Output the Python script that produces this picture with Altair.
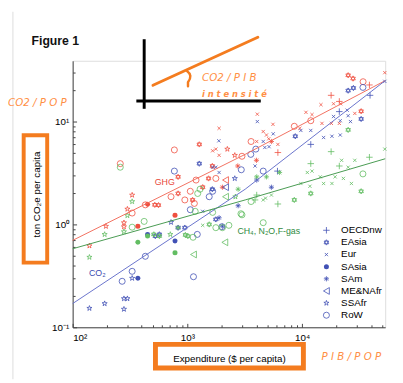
import altair as alt
import pandas as pd

# ---------------- data ----------------
REGIONS = ["OECDnw", "EAsia", "Eur", "SAsia", "SAm", "ME&NAfr", "SSAfr", "RoW"]
CODE = {"O": "OECDnw", "E": "EAsia", "U": "Eur", "S": "SAsia", "M": "SAm",
        "N": "ME&NAfr", "F": "SSAfr", "R": "RoW"}

# GHG (red)
ghg_exp = [1890, 1660, 1770, 1890, 2230, 1270, 770, 260, 830, 2590, 2990, 1650, 1190, 1530,
           1770, 2150, 2020, 1060, 1360, 830, 720, 950, 1110, 1150, 330, 300, 330, 450, 520,
           560, 430, 780, 370, 280, 280, 195, 140, 25200, 27800, 34000, 38600, 52600, 17900,
           21100, 14600, 18800, 21700, 32700, 28800, 10800, 12200, 11900, 21100, 4070, 5570,
           8550, 9550, 14900, 18000, 4580, 4890, 5120, 3590, 4020, 5400, 6150, 4000, 2750, 6150]
ghg_ton = [8.6, 5.2, 5.4, 4.7, 5.4, 6.0, 5.3, 3.9, 2.9, 4.7, 4.6, 3.7, 2.7, 2.8,
           2.8, 2.7, 2.3, 2.1, 2.3, 2.0, 1.86, 1.73, 1.73, 1.6, 1.93, 1.41, 1.29, 1.57, 1.55,
           1.54, 1.55, 1.23, 0.96, 1.04, 0.95, 0.96, 0.62, 28.2, 26.2, 24.4, 22.7, 29.9, 18.0,
           15.7, 14.6, 14.9, 14.9, 12.6, 12.0, 12.3, 11.7, 10.2, 9.6, 11.8, 9.4,
           9.0, 8.6, 9.6, 9.6, 8.0, 7.4, 6.8, 6.4, 6.4, 6.4, 5.0, 4.2, 3.7, 6.0]
ghg_reg = ["U", "U", "U", "U", "F", "E", "R", "R", "E", "F", "R", "E", "R", "E",
           "R", "N", "M", "R", "E", "E", "R", "R", "E", "R", "F", "F", "R", "S", "E",
           "E", "R", "S", "S", "F", "F", "F", "F", "E", "E", "R", "O", "U", "O",
           "O", "U", "U", "U", "E", "U", "U", "U", "R", "U", "U", "U",
           "R", "U", "U", "U", "U", "U", "U", "R", "U", "M", "O", "M", "M", "U"]

# CO2 (blue)
co2_exp = [25200, 28000, 33900, 39100, 52600, 21100, 18800, 21500, 25200, 26400, 24700, 32700,
           9750, 11900, 15400, 18200, 21500, 8720, 11900, 5600, 4070, 4730, 3570, 4580, 6100,
           3890, 4020, 2950, 5400, 2770, 1880, 770, 1270, 1660, 1770, 1890, 2590, 2150, 1650,
           1550, 1060, 1360, 1890, 2020, 1220, 720, 950, 830, 570, 525, 450, 780, 430, 330,
           270, 370, 330, 1130, 280, 300, 280, 190, 140, 1660, 1770, 2000, 4580, 5150, 3950]
co2_ton = [20.0, 21.2, 21.5, 18.0, 24.6, 12.5, 11.2, 10.2, 11.4, 10.0, 12.9, 10.6,
           8.2, 8.2, 7.0, 7.2, 7.4, 7.2, 6.0, 7.6, 10.0, 5.6, 4.8, 3.3, 3.3,
           3.7, 2.7, 3.4, 2.3, 1.52, 6.5, 3.3, 3.9, 3.6, 3.6, 3.2, 2.8, 2.3, 2.2,
           1.86, 1.39, 1.34, 1.16, 0.96, 0.80, 1.05, 0.93, 0.93, 0.80, 0.77, 0.80, 0.69, 0.49, 0.35,
           0.28, 0.30, 0.30, 0.31, 0.19, 0.19, 0.15, 0.17, 0.153, 2.1, 1.12, 0.95, 6.4, 5.7, 5.4]
co2_reg = ["E", "E", "R", "O", "U", "O", "U", "U", "U", "U", "U", "E",
           "U", "U", "U", "U", "U", "E", "O", "U", "U", "U", "R", "R", "O",
           "U", "M", "R", "M", "M", "U", "R", "E", "U", "U", "U", "F", "N", "E",
           "R", "R", "U", "M", "M", "R", "F", "E", "E", "E", "E", "S", "S", "R", "R",
           "R", "S", "F", "R", "F", "F", "F", "F", "F", "R", "E", "R", "U", "U", "R"]

# CH4, N2O, F-gas (green)
oth_exp = [52600, 38600, 33900, 32700, 17900, 22100, 28800, 25200, 21100, 19400, 22900, 26900,
           15400, 18200, 25200, 14400, 11100, 12200, 11900, 9750, 11700, 11900, 8550, 6150,
           5400, 4800, 4580, 4020, 3890, 3590, 2930, 4580, 4890, 6360, 4020, 2620, 260, 2150,
           1230, 1290, 1170, 1360, 1770, 2020, 2300, 1550, 2770, 2990, 2120, 1130, 1660, 830,
           960, 1010, 780, 710, 420, 330, 300, 330, 280, 450, 510, 570, 370, 190, 140, 1120]
oth_ton = [5.4, 4.5, 3.1, 2.1, 5.1, 4.2, 4.2, 3.6, 3.7, 2.9, 2.8, 2.5,
           2.5, 2.5, 8.3, 2.9, 3.2, 3.3, 3.9, 2.5, 2.35, 2.0, 1.73, 1.58,
           1.93, 1.80, 1.73, 1.93, 1.73, 1.67, 1.27, 1.04, 2.9, 3.2, 2.9, 1.86, 3.6, 1.86,
           2.0, 2.2, 1.34, 0.98, 0.93, 0.93, 0.98, 1.0, 2.2, 1.24, 0.67, 0.51, 1.31, 0.93,
           0.79, 0.77, 0.53, 0.80, 1.07, 0.94, 1.22, 1.67, 0.85, 0.77, 0.80, 0.77, 0.67, 0.80, 0.48, 0.75]
oth_reg = ["U", "O", "R", "E", "O", "U", "U", "U", "O", "U", "U", "U",
           "U", "U", "E", "U", "U", "U", "O", "U", "U", "E", "E", "O",
           "U", "U", "U", "O", "O", "R", "R", "R", "M", "M", "M", "F", "R", "N",
           "R", "R", "R", "U", "R", "R", "R", "E", "M", "R", "N", "N", "R", "M",
           "E", "E", "S", "F", "R", "R", "F", "F", "F", "S", "E", "E", "S", "F", "F", "R"]

# fitted trend lines
fit_exp = [100, 3190, 53000]
fit_ghg = [0.70, 4.8, 25.0]
fit_co2 = [0.17, 2.2, 25.0]
fit_oth = [0.58, 1.73, 4.35]

x_major = [100, 1000, 10000]
x_minor = [200, 300, 400, 500, 600, 700, 800, 900, 2000, 3000, 4000, 5000, 6000, 7000,
           8000, 9000, 20000, 30000, 40000, 50000]
y_major = [0.1, 1, 10]
y_minor = [0.2, 0.3, 0.4, 0.5, 0.6, 0.7, 0.8, 0.9, 2, 3, 4, 5, 6, 7, 8, 9, 20, 30]

label_text = ["GHG", "CO₂", "CH₄, N₂O,F-gas"]
label_exp = [635, 164, 5120]
label_ton = [2.57, 0.34, 0.857]

# ---------------- styles ----------------
W, H = 319, 272
XDOM = [100, 53000]
YDOM = [0.1, 39]
FONT = "Liberation Sans"
RED, BLUE, GREEN = "#ef5040", "#4151b5", "#62bd62"
RED_L, BLUE_L, GREEN_L = "#f2705f", "#6873cc", "#479a50"
ORANGE, ORANGE_T = "#f47c1f", "#ff8f45"
AX = "#444444"

STAR = ("M0,-1L0.223,-0.307L0.951,-0.309L0.361,0.117L0.588,0.809L0,0.38L-0.588,0.809"
        "L-0.361,0.117L-0.951,-0.309L-0.223,-0.307Z")
SHAPES = {
    "OECDnw": "M-1,0L1,0M0,-1L0,1",
    "EAsia": "M0,-1L0.866,0.5L-0.866,0.5Z M0,1L0.866,-0.5L-0.866,-0.5Z",
    "Eur": "M-0.7,-0.7L0.7,0.7M-0.7,0.7L0.7,-0.7",
    "SAsia": "circle",
    "SAm": "M-1,0L1,0M0,-1L0,1M-0.7,-0.7L0.7,0.7M-0.7,0.7L0.7,-0.7",
    "ME&NAfr": "triangle-left",
    "SSAfr": STAR,
    "RoW": "circle",
}
SIZES = {"OECDnw": 44, "EAsia": 30, "Eur": 22, "SAsia": 26, "SAm": 28,
         "ME&NAfr": 48, "SSAfr": 30, "RoW": 38}

rows = []
for gas, xs, ys, rs in [("GHG", ghg_exp, ghg_ton, ghg_reg),
                        ("CO2", co2_exp, co2_ton, co2_reg),
                        ("Other", oth_exp, oth_ton, oth_reg)]:
    for a, b, c in zip(xs, ys, rs):
        rows.append({"gas": gas, "exp": a, "ton": b, "region": CODE[c]})
df = pd.DataFrame(rows)

fit_df = pd.DataFrame({
    "exp": fit_exp * 3,
    "ton": fit_ghg + fit_co2 + fit_oth,
    "gas": ["GHG"] * 3 + ["CO2"] * 3 + ["Other"] * 3,
})
lab_df = pd.DataFrame({"text": label_text, "exp": label_exp, "ton": label_ton,
                       "gas": ["GHG", "CO2", "Other"]})
leg_df = pd.DataFrame({"region": REGIONS})

xsc = alt.Scale(type="log", domain=XDOM, nice=False)
ysc = alt.Scale(type="log", domain=YDOM, nice=False)
color = alt.Color("gas:N", scale=alt.Scale(domain=["GHG", "CO2", "Other"],
                                           range=[RED, BLUE, GREEN]), legend=None)
shape = alt.Shape("region:N", scale=alt.Scale(domain=REGIONS, range=[SHAPES[r] for r in REGIONS]),
                  legend=None)
size = alt.Size("region:N", scale=alt.Scale(type="ordinal", domain=REGIONS,
                                            range=[SIZES[r] for r in REGIONS]), legend=None)

x_lab = "datum.value == 100 ? '10²' : datum.value == 1000 ? '10³' : '10⁴'"
y_lab = "datum.value < 0.5 ? '10⁻¹' : datum.value < 5 ? '10⁰' : '10¹'"

x_main = alt.X("exp:Q", scale=xsc, axis=alt.Axis(
    values=x_major, labelExpr=x_lab, ticks=False, tickSize=0, grid=False, domainColor=AX,
    labelFont=FONT, labelFontSize=10, labelColor="black", labelPadding=6,
    title="Expenditure ($ per capita)", titleFont=FONT, titleFontSize=10,
    titleFontWeight="normal", titleColor="black", titlePadding=11))
y_main = alt.Y("ton:Q", scale=ysc, axis=alt.Axis(
    values=y_major, labelExpr=y_lab, ticks=False, tickSize=0, grid=False, domainColor=AX,
    labelFont=FONT, labelFontSize=10, labelColor="black", labelPadding=4,
    title="ton CO₂e per capita", titleFont=FONT, titleFontSize=10,
    titleFontWeight="normal", titleColor="black", titlePadding=10))

base = alt.Chart(df)
open_pts = base.transform_filter(alt.datum.region != "SAsia").mark_point(
    filled=False, strokeWidth=0.8, opacity=1).encode(
    x=x_main, y=y_main, color=color, shape=shape, size=size)
filled_pts = base.transform_filter(alt.datum.region == "SAsia").mark_circle(
    size=26, opacity=1).encode(
    x=alt.X("exp:Q", scale=xsc, axis=None), y=alt.Y("ton:Q", scale=ysc, axis=None), color=color)


def tick_axis(orient, offset, values, size_):
    return alt.Axis(orient=orient, offset=offset, values=values, labels=False, domain=False,
                    ticks=True, tickSize=size_, tickColor=AX, grid=False, title=None)


def fit_line(gas, col, xaxis, yaxis):
    return alt.Chart(fit_df).transform_filter(alt.datum.gas == gas).mark_line(
        color=col, strokeWidth=1).encode(
        x=alt.X("exp:Q", scale=xsc, axis=xaxis), y=alt.Y("ton:Q", scale=ysc, axis=yaxis))


line_ghg = fit_line("GHG", RED_L, tick_axis("top", -H, x_major, 4), tick_axis("right", -W, y_major, 4))
line_co2 = fit_line("CO2", BLUE_L, tick_axis("top", -H, x_minor, 2.5), tick_axis("right", -W, y_minor, 2.5))
line_oth = fit_line("Other", GREEN_L, None, None)

labels = alt.Chart(lab_df).mark_text(font=FONT, fontSize=9).encode(
    x=alt.X("exp:Q", scale=xsc, axis=None), y=alt.Y("ton:Q", scale=ysc, axis=None),
    text="text:N",
    color=alt.Color("gas:N", scale=alt.Scale(domain=["GHG", "CO2", "Other"],
                                             range=["#e8483a", "#3a4cb0", "#2f8a3e"]), legend=None))

main = alt.layer(open_pts, filled_pts, line_ghg, line_co2, line_oth, labels).resolve_axis(
    x="independent", y="independent").resolve_scale(color="independent")

# legend
leg_y = alt.Y("region:N", sort=REGIONS,
              scale=alt.Scale(type="point", domain=REGIONS, range=[173, 259.7], padding=0), axis=None)
leg_open = alt.Chart(leg_df).transform_filter(alt.datum.region != "SAsia").mark_point(
    filled=False, strokeWidth=0.8, color=BLUE, opacity=1).encode(
    x=alt.value(259), y=leg_y, shape=shape, size=size)
leg_fill = alt.Chart(leg_df).transform_filter(alt.datum.region == "SAsia").mark_circle(
    size=26, color=BLUE, opacity=1).encode(x=alt.value(259), y=leg_y)
leg_text = alt.Chart(leg_df).mark_text(align="left", baseline="middle", font=FONT,
                                       fontSize=10, color="black").encode(
    x=alt.value(274), y=leg_y, text="region:N")

# annotations drawn on top of the figure
one = pd.DataFrame({"k": [0]})


def deco():
    return alt.Chart(one)


border = deco().mark_rule(color="#dcdcdc", strokeWidth=1).encode(
    x=alt.value(-61), y=alt.value(-50), y2=alt.value(325))
fig_title = deco().mark_text(align="left", baseline="middle", font=FONT, fontSize=12.5,
                             fontWeight="bold", color="#111").encode(
    x=alt.value(-42), y=alt.value(-20), text=alt.value("Figure 1"))
vbar = deco().mark_rule(color="black", strokeWidth=3).encode(
    x=alt.value(73), y=alt.value(-22), y2=alt.value(49))
hbar = deco().mark_rule(color="black", strokeWidth=3).encode(
    x=alt.value(65), x2=alt.value(192), y=alt.value(41))
oline = deco().mark_rule(color=ORANGE, strokeWidth=3, strokeCap="round").encode(
    x=alt.value(82), y=alt.value(25), x2=alt.value(189), y2=alt.value(-24))
curl = deco().mark_point(shape="M-0.29,-0.96 Q0.5,-0.4 -0.16,0.5 L-0.16,1", size=256,
                         filled=False, color=ORANGE, strokeWidth=2.5, opacity=1,
                         strokeCap="round").encode(x=alt.value(119), y=alt.value(18))
txt_style = dict(align="left", baseline="middle", font="DejaVu Sans", fontStyle="italic",
                 color=ORANGE_T)
t_int1 = deco().mark_text(fontSize=10.5, **txt_style).encode(
    x=alt.value(132), y=alt.value(18), text=alt.value("CO2 / P I B"))
t_int2 = deco().mark_text(fontSize=8.5, fontWeight="bold", **txt_style).encode(
    x=alt.value(132), y=alt.value(34), text=alt.value("i n t e n s i t é"))
t_pop = deco().mark_text(fontSize=10.5, **txt_style).encode(
    x=alt.value(-66), y=alt.value(43), text=alt.value("CO2 / P O P"))
t_pib = deco().mark_text(fontSize=10.5, **txt_style).encode(
    x=alt.value(254), y=alt.value(302), text=alt.value("P I B / P O P"))
rect_y = deco().mark_rect(fill="transparent", stroke=ORANGE, strokeWidth=4).encode(
    x=alt.value(-50), x2=alt.value(-26), y=alt.value(76), y2=alt.value(206))
rect_x = deco().mark_rect(fill="transparent", stroke=ORANGE, strokeWidth=5).encode(
    x=alt.value(84.5), x2=alt.value(235.5), y=alt.value(289.5), y2=alt.value(313.5))

chart = alt.layer(
    main, leg_open, leg_fill, leg_text,
    border, fig_title, vbar, hbar, oline, curl, t_int1, t_int2, t_pop, t_pib, rect_y, rect_x
).resolve_scale(y="independent").properties(
    width=W, height=H,
    autosize=alt.AutoSizeParams(type="none"),
    padding={"left": 66, "top": 50, "right": 10, "bottom": 53},
).configure_view(stroke=None).configure(background="white")

chart.save("out.html", embed_options={"renderer": "svg", "actions": False})
